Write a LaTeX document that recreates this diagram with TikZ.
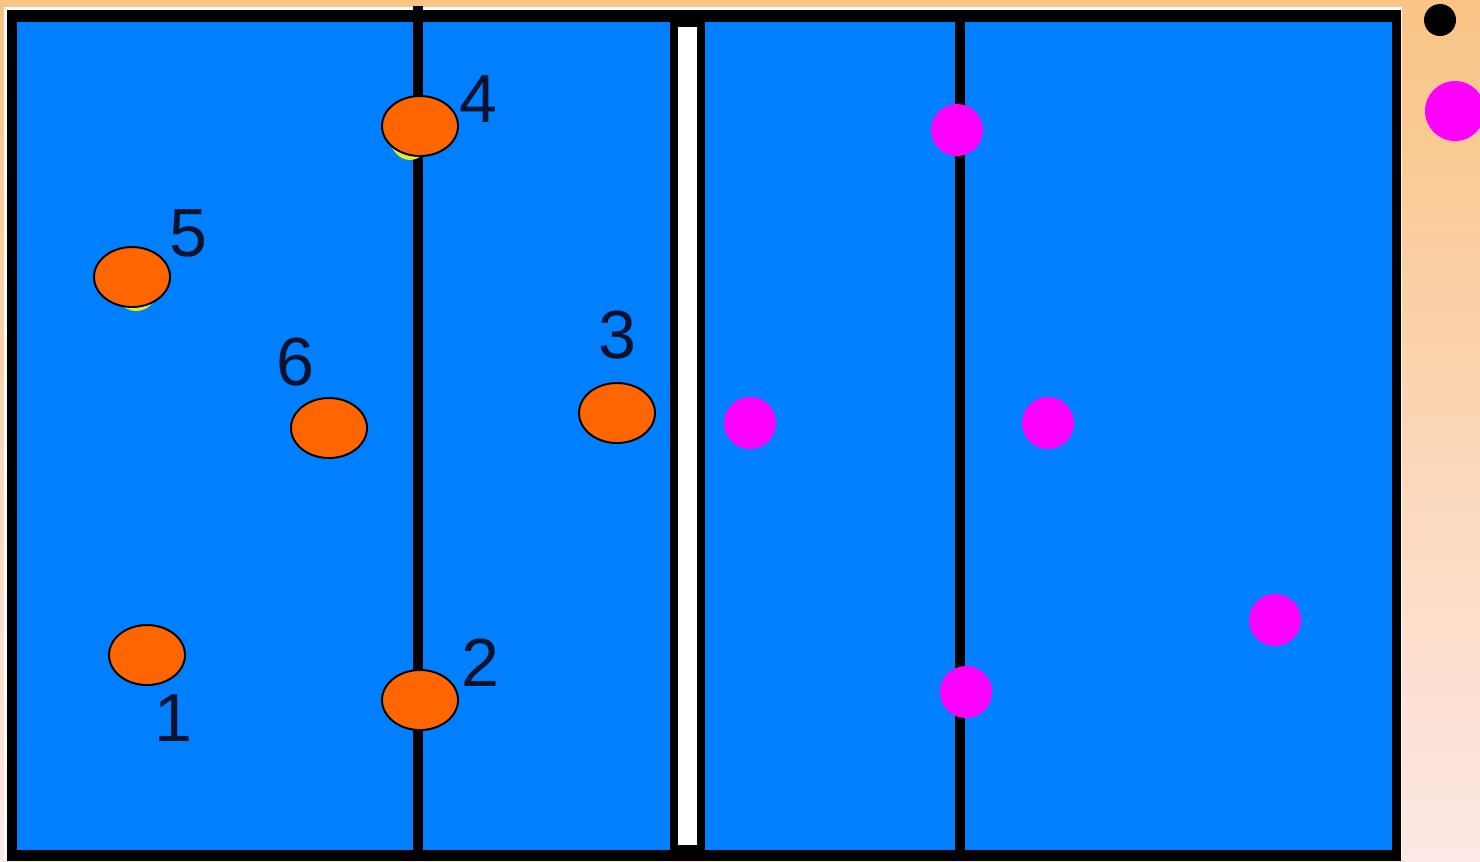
\documentclass[tikz,border=0pt]{standalone}
\usepackage{fontspec}
\setmainfont{Liberation Sans}

\definecolor{courtblue}{RGB}{0,127,255}
\definecolor{playerorange}{RGB}{255,102,0}
\definecolor{rivalpink}{RGB}{255,0,255}
\definecolor{bgtop}{RGB}{249,196,132}
\definecolor{bgmid}{RGB}{250,180,128}
\definecolor{bgbottom}{RGB}{253,232,230}
\definecolor{hintyellow}{RGB}{225,240,40}
\definecolor{digitink}{RGB}{10,18,45}

\tikzset{
    player/.style={fill=playerorange, draw=black, line width=0.55pt},
    rival/.style={fill=rivalpink},
    courtline/.style={line width=2.6pt, black},
    posnum/.style={inner sep=0pt, text=digitink, font=\fontsize{19.4}{23}\selectfont}
}

\begin{document}
\begin{tikzpicture}[x=0.1mm, y=-0.1mm]
        \useasboundingbox (0,0) rectangle (1480,861);

        % ===== BACKGROUND =====
        \shade[top color=bgtop, middle color=bgmid, bottom color=bgbottom]
            (0,0) rectangle (1480,861);

        % ===== COURT =====
        \fill[white] (4,7) rectangle (1402,861);
        \fill[black] (7,10) rectangle (1401,861);
        \fill[courtblue] (17,22) rectangle (1392,850);

        % --- attack lines ---
        \draw[courtline] (418,6) -- (418,852);
        \draw[courtline] (960,16) -- (960,852);

        % --- net ---
        \fill[black] (670,10) rectangle (705,861);
        \fill[white] (678,27) rectangle (697,845);

        % ===== OUR TEAM (orange, numbered) =====
        % yellow slivers peeking under 4 and 5
        \fill[hintyellow] (410,131) ellipse (22 and 29);
        \fill[hintyellow] (136,283) ellipse (24 and 28);

        \path[player] (420,126) ellipse (38 and 30);
        \path[player] (132,277) ellipse (38 and 30);
        \path[player] (329,428) ellipse (38 and 30);
        \path[player] (617,413) ellipse (38 and 30);
        \path[player] (147,655) ellipse (38 and 30);
        \path[player] (420,700) ellipse (38 and 30);

        % position numbers
        \node[posnum] (num4) at (478,99)  {4};
        \node[posnum] (num5) at (188,233) {5};
        \node[posnum] (num6) at (295,362) {6};
        \node[posnum] (num3) at (617,335) {3};
        \node[posnum] (num2) at (480,663) {2};
        \node[posnum] (num1) at (173,718) {1};

        % ===== OPPONENTS (magenta dots) =====
        \foreach \px/\py in {957/130, 750/423, 1048/423, 1275/620, 966/692}
            \fill[rival] (\px,\py) circle (26);

        % ===== LEGEND DOTS (right margin) =====
        \fill[black] (1440,20) circle (16);
        \fill[rival] (1455,111) circle (30);

    \end{tikzpicture}
\end{document}
